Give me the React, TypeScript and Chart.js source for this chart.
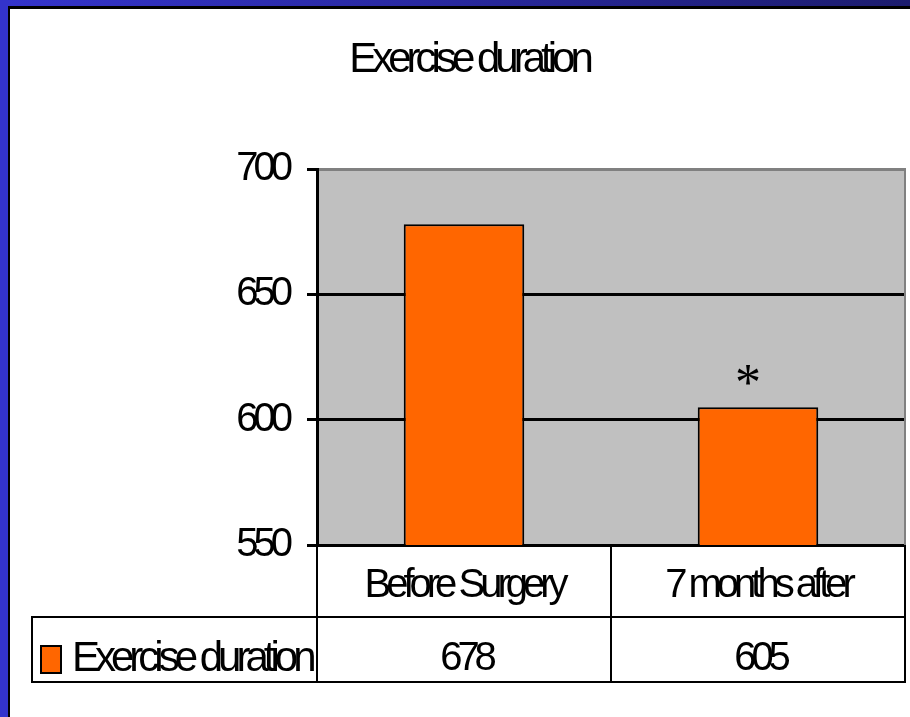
import React, { useEffect, useRef } from 'react';
import { Chart, registerables } from 'chart.js';

Chart.register(...registerables);

// Chart data
const categories: string[] = ['Before Surgery', '7 months after'];
const seriesName = 'Exercise duration';
const durations: number[] = [678, 605];
const significance: string[] = ['', '*'];
const yTicks: number[] = [550, 600, 650, 700];

const FONT = "'Liberation Sans', Arial, sans-serif";
const TEXT_SPACING = '-5px';
const BAR_COLOR = '#FF6600';
const PLOT_BG = '#C0C0C0';
const PLOT_EDGE = '#808080';

// Tight tracking for every label drawn on the canvas
const spacingPlugin = {
  id: 'textSpacing',
  beforeUpdate(chart: any) {
    chart.ctx.letterSpacing = TEXT_SPACING;
  },
  beforeLayout(chart: any) {
    chart.ctx.letterSpacing = TEXT_SPACING;
  },
  beforeDraw(chart: any) {
    chart.ctx.letterSpacing = TEXT_SPACING;
  },
};

// Grey plot background plus its right-hand edge
const plotAreaPlugin = {
  id: 'plotArea',
  beforeDraw(chart: any) {
    const { ctx, chartArea } = chart;
    ctx.save();
    ctx.fillStyle = PLOT_BG;
    ctx.fillRect(chartArea.left, chartArea.top, chartArea.right - chartArea.left, chartArea.bottom - chartArea.top);
    ctx.restore();
  },
  beforeDatasetsDraw(chart: any) {
    const { ctx, chartArea } = chart;
    ctx.save();
    ctx.strokeStyle = PLOT_EDGE;
    ctx.lineWidth = 2;
    ctx.beginPath();
    ctx.moveTo(chartArea.right, chartArea.top - 1);
    ctx.lineTo(chartArea.right, chartArea.bottom);
    ctx.stroke();
    ctx.restore();
  },
};

// Significance marker above bars
const markerPlugin = {
  id: 'markers',
  afterDatasetsDraw(chart: any) {
    const { ctx } = chart;
    const meta = chart.getDatasetMeta(0);
    ctx.save();
    ctx.letterSpacing = '0px';
    ctx.fillStyle = '#000';
    ctx.font = "52px 'Liberation Serif', 'Times New Roman', serif";
    ctx.textAlign = 'center';
    ctx.textBaseline = 'middle';
    meta.data.forEach((bar: any, i: number) => {
      const mark = significance[i];
      if (!mark) return;
      const top = chart.scales.y.getPixelForValue(durations[i]);
      ctx.fillText(mark, bar.x - 10, top - 21);
    });
    ctx.restore();
  },
};

// Data table under the category axis
const dataTablePlugin = {
  id: 'dataTable',
  afterDraw(chart: any) {
    const { ctx, chartArea } = chart;
    const xs = chart.scales.x;
    const rowSplit = 617;
    const tableBottom = 682;
    const tableLeft = 32;
    const centers = categories.map((_, i) => xs.getPixelForValue(i));
    const bounds = [chartArea.left];
    for (let i = 0; i < centers.length - 1; i++) bounds.push((centers[i] + centers[i + 1]) / 2);
    bounds.push(chartArea.right);

    ctx.save();
    ctx.strokeStyle = '#000';
    ctx.lineWidth = 2;
    ctx.beginPath();
    bounds.forEach((bx) => {
      ctx.moveTo(bx, chartArea.bottom);
      ctx.lineTo(bx, tableBottom + 1);
    });
    ctx.moveTo(tableLeft, rowSplit);
    ctx.lineTo(chartArea.right, rowSplit);
    ctx.moveTo(tableLeft, tableBottom);
    ctx.lineTo(chartArea.right, tableBottom);
    ctx.moveTo(tableLeft, rowSplit - 1);
    ctx.lineTo(tableLeft, tableBottom + 1);
    ctx.stroke();

    // legend key
    ctx.fillStyle = BAR_COLOR;
    ctx.fillRect(41, 646, 20, 27);
    ctx.strokeRect(41, 646, 20, 27);

    ctx.letterSpacing = TEXT_SPACING;
    ctx.fillStyle = '#000';
    ctx.textBaseline = 'middle';
    ctx.textAlign = 'left';
    ctx.font = `42px ${FONT}`;
    ctx.fillText(seriesName, 72, 659);
    ctx.textAlign = 'center';
    ctx.font = `40px ${FONT}`;
    durations.forEach((v, i) => {
      ctx.fillText(String(v), centers[i] + 2, 659);
    });
    ctx.restore();
  },
};

export default function App() {
  const canvasRef = useRef<HTMLCanvasElement | null>(null);

  useEffect(() => {
    if (!canvasRef.current) return;
    const tickFont = { family: FONT, size: 40, weight: 'normal' as const, lineHeight: 1.2 };
    const titleFont = { family: FONT, size: 42, weight: 'normal' as const, lineHeight: 1.2 };
    const chart = new Chart(canvasRef.current, {
      type: 'bar',
      data: {
        labels: categories,
        datasets: [
          {
            label: seriesName,
            data: durations,
            backgroundColor: BAR_COLOR,
            borderColor: '#000',
            borderWidth: 2,
            borderSkipped: false,
            categoryPercentage: 1,
            barPercentage: 0.41,
          },
        ],
      },
      options: {
        animation: false,
        responsive: false,
        maintainAspectRatio: false,
        devicePixelRatio: 1,
        events: [],
        layout: { padding: { left: 33, right: 5, top: 0, bottom: 0 } },
        plugins: {
          legend: { display: false },
          tooltip: { enabled: false },
          title: {
            display: true,
            text: 'Exercise duration',
            color: '#000',
            font: titleFont,
            padding: { top: 35, bottom: 83.6 },
          },
        },
        scales: {
          x: {
            offset: true,
            grid: { display: false, drawTicks: false },
            border: { display: true, color: '#000', width: 3 },
            ticks: { color: '#000', font: tickFont, padding: 17, maxRotation: 0, autoSkip: false },
            afterFit: (s: any) => {
              s.height = 172;
            },
          },
          y: {
            min: 550,
            max: 700,
            afterBuildTicks: (s: any) => {
              s.ticks = yTicks.map((v) => ({ value: v }));
            },
            grid: {
              color: (c: any) => (c.tick && c.tick.value === 700 ? PLOT_EDGE : '#000'),
              tickColor: '#000',
              lineWidth: 3,
              tickLength: 10,
              drawTicks: true,
            },
            border: { display: true, color: '#000', width: 3 },
            ticks: { color: '#000', font: tickFont, padding: 19 },
            afterFit: (s: any) => {
              s.width = 317 - 33;
            },
          },
        },
      },
      plugins: [spacingPlugin, plotAreaPlugin, markerPlugin, dataTablePlugin],
    });
    return () => chart.destroy();
  }, []);

  return (
    <div style={{ position: 'fixed', left: 0, top: 0, width: 910, height: 717, background: '#fff', overflow: 'hidden' }}>
      <canvas ref={canvasRef} width={910} height={717} style={{ position: 'absolute', left: 0, top: 0, display: 'block' }} />
      <div style={{ position: 'absolute', left: 0, top: 0, width: 910, height: 6, background: 'linear-gradient(to right, #3434CC, #1C1C6E)' }} />
      <div style={{ position: 'absolute', left: 8, top: 6, width: 902, height: 3, background: '#000' }} />
      <div style={{ position: 'absolute', left: 0, top: 0, width: 8, height: 717, background: '#3333CC' }} />
      <div style={{ position: 'absolute', left: 8, top: 6, width: 2, height: 711, background: '#000' }} />
    </div>
  );
}
